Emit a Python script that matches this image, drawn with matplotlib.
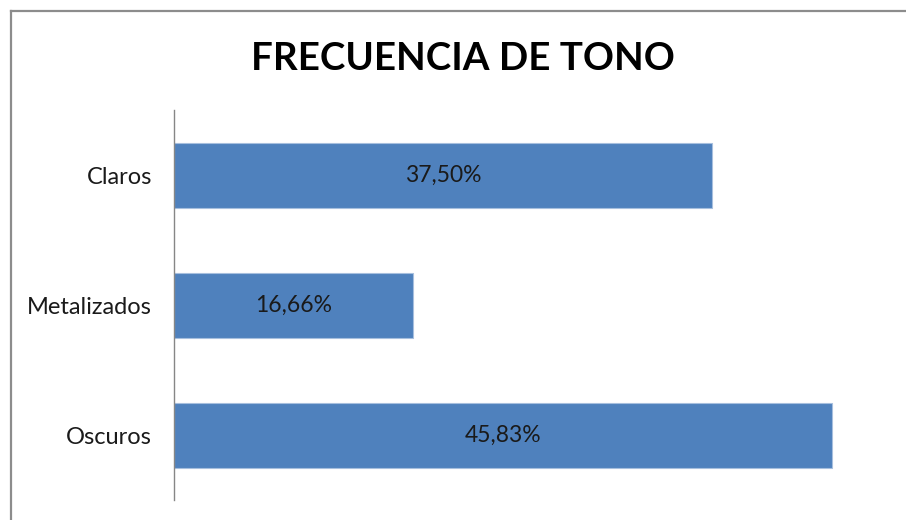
import matplotlib.pyplot as plt
from matplotlib.lines import Line2D

categorias = ["Claros", "Metalizados", "Oscuros"]
porcentajes = [37.50, 16.66, 45.83]
etiquetas = ["37,50%", "16,66%", "45,83%"]

plt.rcParams["font.family"] = ["Lato", "DejaVu Sans"]

fig = plt.figure(figsize=(9.06, 5.2), dpi=100)
W, H = 906, 520

# plot area in pixels: x 174..906, y 110..500
ax = fig.add_axes([174 / W, 1 - 500 / H, (906 - 174) / W, 390 / H])

pos = list(range(len(categorias)))
ax.barh(pos, porcentajes, height=0.5, color="#4f81bd", edgecolor="#a7bfde", linewidth=0.8)
for p, v, t in zip(pos, porcentajes, etiquetas):
    ax.text(v / 2, p, t, ha="center", va="center", fontsize=16.5, color="#1a1a1a")

ax.set_xlim(0, 45.83 * 732 / 658)
ax.set_ylim(len(categorias) - 0.5, -0.5)
ax.set_yticks(pos)
ax.set_yticklabels(categorias, fontsize=17, color="#1a1a1a")
ax.tick_params(axis="y", length=0, pad=16)
ax.set_xticks([])
for s in ["top", "right", "bottom"]:
    ax.spines[s].set_visible(False)
ax.spines["left"].set_color("#868686")
ax.spines["left"].set_linewidth(1)

fig.text(463 / W, 1 - 59 / H, "FRECUENCIA DE TONO", ha="center", va="center",
         fontsize=27.7, fontweight="bold", color="black")

# outer chart border (cropped at right and bottom)
fig.add_artist(Line2D([10.5 / W, 10.5 / W], [0, 1 - 10.5 / H], color="#8c8c8c", linewidth=1.6))
fig.add_artist(Line2D([10.5 / W, 1], [1 - 10.5 / H, 1 - 10.5 / H], color="#8c8c8c", linewidth=1.6))

fig.savefig("out.png", dpi=100)
